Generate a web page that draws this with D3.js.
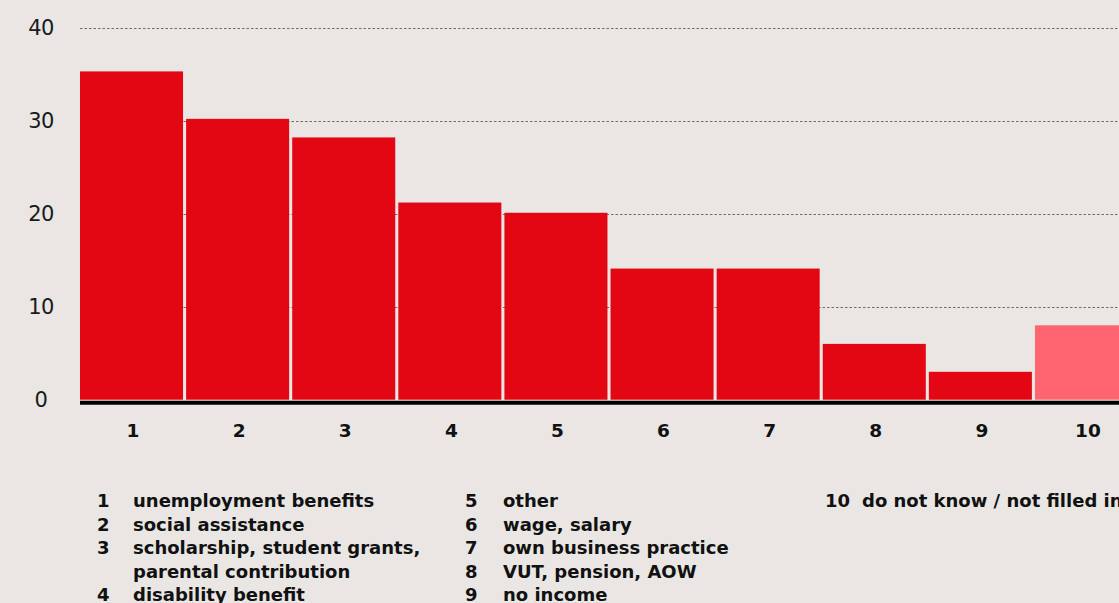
<!DOCTYPE html>
<html>
<head>
<meta charset="utf-8">
<script src="https://cdn.jsdelivr.net/npm/d3@7"></script>
<style>
  html, body { margin: 0; padding: 0; background: #e9e6e3; }
  svg { display: block; }
</style>
</head>
<body>
<svg id="chart" width="1119" height="603"></svg>
<script>
// Source of income, share of respondents (%)
const categories = ["1", "2", "3", "4", "5", "6", "7", "8", "9", "10"];
const values = [35.3, 30.2, 28.2, 21.2, 20.1, 14.1, 14.1, 6.0, 3.0, 8.0];
const yTicks = [0, 10, 20, 30, 40];
const legendNumbers = ["1", "2", "3", "", "4", "5", "6", "7", "8", "9", "10"];
const legendLabels = [
  "unemployment benefits",
  "social assistance",
  "scholarship, student grants,",
  "parental contribution",
  "disability benefit",
  "other",
  "wage, salary",
  "own business practice",
  "VUT, pension, AOW",
  "no income",
  "do not know / not filled in"
];
const legendColumns = [0, 0, 0, 0, 0, 1, 1, 1, 1, 1, 2];
const legendRows = [0, 1, 2, 3, 4, 0, 1, 2, 3, 4, 0];

const svg = d3.select("#chart");
const W = 1119, H = 603;
const left = 80;
const font = "'DejaVu Sans', Verdana, sans-serif";

const x = d3.scaleBand()
  .domain(categories)
  .range([left, 1138])
  .paddingInner(0.029)
  .paddingOuter(0)
  .align(0);

const y = d3.scaleLinear().domain([0, 40]).range([399.7, 27.7]);

// dotted gridlines
svg.append("g")
  .selectAll("line")
  .data(yTicks.filter(d => d > 0))
  .join("line")
  .attr("x1", left)
  .attr("x2", W)
  .attr("y1", d => Math.round(y(d)) + 0.5)
  .attr("y2", d => Math.round(y(d)) + 0.5)
  .attr("stroke", "#6e6c6a")
  .attr("stroke-width", 1)
  .attr("stroke-dasharray", "2.5,2");

// y tick labels
svg.append("g")
  .selectAll("text")
  .data(yTicks)
  .join("text")
  .attr("x", 41)
  .attr("y", d => y(d))
  .attr("dy", "0.36em")
  .attr("text-anchor", "middle")
  .attr("font-family", font)
  .attr("font-size", 21)
  .attr("letter-spacing", -0.5)
  .attr("fill", "#1a1a1a")
  .text(d => d);

// bars
svg.append("g")
  .selectAll("rect")
  .data(values)
  .join("rect")
  .attr("x", (d, i) => x(categories[i]))
  .attr("width", x.bandwidth())
  .attr("y", d => y(d))
  .attr("height", d => y(0) - y(d))
  .attr("fill", (d, i) => i === 9 ? "#ff6570" : "#e30613");

// baseline
svg.append("line")
  .attr("x1", left)
  .attr("x2", W)
  .attr("y1", y(0) + 3)
  .attr("y2", y(0) + 3)
  .attr("stroke", "#000")
  .attr("stroke-width", 4);

// x category labels
svg.append("g")
  .selectAll("text")
  .data(categories)
  .join("text")
  .attr("x", d => x(d) + x.bandwidth() / 2 + 1.5)
  .attr("y", 430)
  .attr("dy", "0.36em")
  .attr("text-anchor", "middle")
  .attr("font-family", font)
  .attr("font-weight", 700)
  .attr("font-size", 18.5)
  .attr("fill", "#111")
  .text(d => d);

// legend
const colNumX = [97, 465, 825];
const colTextX = [133, 503, 862];
const rowY = d3.scaleLinear().domain([0, 4]).range([501, 595]);
const legend = svg.append("g")
  .attr("font-family", font)
  .attr("font-weight", 700)
  .attr("font-size", 18)
  .attr("fill", "#111");

legend.selectAll("text.num")
  .data(legendNumbers)
  .join("text")
  .attr("class", "num")
  .attr("x", (d, i) => colNumX[legendColumns[i]])
  .attr("y", (d, i) => rowY(legendRows[i]))
  .attr("dy", "0.36em")
  .text(d => d);

legend.selectAll("text.lab")
  .data(legendLabels)
  .join("text")
  .attr("class", "lab")
  .attr("x", (d, i) => colTextX[legendColumns[i]])
  .attr("y", (d, i) => rowY(legendRows[i]))
  .attr("dy", "0.36em")
  .text(d => d);
</script>
</body>
</html>
